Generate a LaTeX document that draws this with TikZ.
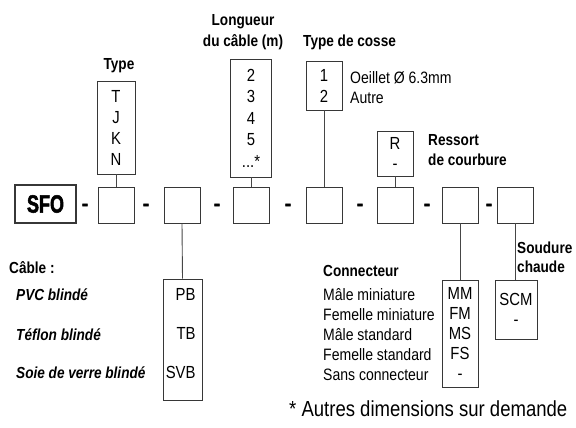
\documentclass[tikz,border=0pt]{standalone}
\usepackage{fontspec}
\setmainfont{Liberation Sans}[FakeStretch=0.85]
\newfontfamily\sfofont{Liberation Sans Bold}[FakeStretch=0.72,FakeBold=2]
\newfontfamily\dashfont{Liberation Sans Bold}[FakeBold=2]
\usepackage{xcolor}
\definecolor{boxline}{RGB}{55,55,55}
\definecolor{linkline}{RGB}{70,70,70}
\usetikzlibrary{positioning}

\begin{document}
\begin{tikzpicture}[x=1pt,y=-1pt,
codebox/.style={draw=boxline,line width=0.9pt,minimum width=36pt,minimum height=36pt,inner sep=0pt},
optbox/.style={draw=boxline,line width=0.9pt,inner sep=0pt,align=center,font=\fontsize{17.5}{21}\selectfont},
sep/.style={font=\fontsize{20}{20}\selectfont\dashfont,inner sep=0pt},
title/.style={font=\fontsize{16}{20}\selectfont\bfseries,inner sep=0pt,align=left},
item/.style={font=\fontsize{16.5}{20}\selectfont,inner sep=0pt,align=left},
link/.style={draw=linkline,line width=0.9pt}]
\useasboundingbox (0,0) rectangle (576,428);
% code row
\node[draw=boxline,line width=1.3pt,minimum width=61pt,minimum height=38pt,inner sep=0pt,font=\fontsize{25}{25}\selectfont\sfofont] (sfo) at (45.5,204) {SFO};
\node[codebox] (b1) at (116,205) {};
\node[codebox] (b2) at (182,205) {};
\node[codebox] (b3) at (251,205) {};
\node[codebox] (b4) at (324,205) {};
\node[codebox] (b5) at (395,205) {};
\node[codebox] (b6) at (460,205) {};
\node[codebox] (b7) at (515,205) {};
\foreach \x/\n in {85/1,146/2,217/3,288/4,360/5,427/6,489/7}
  \node[sep] (dash\n) at (\x,207) {-};
% options above the row
\node[optbox,minimum width=38pt,minimum height=93pt] (typebox) at (116,127.5) {T\\J\\K\\N};
\node[title,align=center] (typetitle) at (119,66) {Type};
\node[optbox,minimum width=41pt,minimum height=118pt,font=\fontsize{17.5}{21.5}\selectfont] (lenbox) at (251,118) {2\\3\\4\\5\\...*};
\node[title,align=center,font=\fontsize{16}{21}\selectfont\bfseries] (lentitle) at (243,32.5) {Longueur\\du câble (m)};
\node[optbox,minimum width=36pt,minimum height=49pt] (cossebox) at (324,85.5) {1\\2};
\node[title,anchor=west] (cossetitle) at (303,42) {Type de cosse};
\node[item,anchor=west] (cossetext) at (350,88) {Oeillet Ø 6.3mm\\Autre};
\node[optbox,minimum width=36pt,minimum height=45pt,font=\fontsize{17.5}{20}\selectfont] (rbox) at (395,153.5) {R\\-};
\node[title,anchor=west] (rtitle) at (428,150) {Ressort\\de courbure};
% options below the row
\node[optbox,minimum width=39pt,minimum height=121pt] (cablebox) at (182.5,339.5) {};
\node[optbox,draw=none,align=right,anchor=east,font=\fontsize{17.5}{39}\selectfont] (cablecodes) at (196,334) {PB\\TB\\SVB};
\node[title,anchor=west] (cabletitle) at (9,268) {Câble :};
\node[title,anchor=west,font=\fontsize{16}{20}\selectfont\bfseries\itshape] (pvc) at (16,295) {PVC blindé};
\node[title,anchor=west,font=\fontsize{16}{20}\selectfont\bfseries\itshape] (teflon) at (16,335) {Téflon blindé};
\node[title,anchor=west,font=\fontsize{16}{20}\selectfont\bfseries\itshape] (soie) at (16,373) {Soie de verre blindé};
\node[optbox,minimum width=36pt,minimum height=107pt,font=\fontsize{17.5}{20}\selectfont] (connbox) at (460,333.5) {MM\\FM\\MS\\FS\\-};
\node[title,anchor=west] (conntitle) at (323,271) {Connecteur};
\node[item,anchor=west] (conntext) at (323,335) {Mâle miniature\\Femelle miniature\\Mâle standard\\Femelle standard\\Sans connecteur};
\node[optbox,minimum width=42pt,minimum height=59pt,font=\fontsize{17.5}{20}\selectfont] (scmbox) at (516,309.5) {SCM\\-};
\node[title,anchor=west,font=\fontsize{16}{19}\selectfont\bfseries] (scmtitle) at (517,257.5) {Soudure\\chaude};
\node[item,anchor=west,font=\fontsize{21.8}{24}\selectfont] (note) at (289,409) {* Autres dimensions sur demande};
% links
\draw[link] (typebox.south) -- (b1.north);
\draw[link] (lenbox.south) -- (b3.north);
\draw[link] (cossebox.south) -- (b4.north);
\draw[link] (rbox.south) -- (b5.north);
\draw[link] (b2.south) -- (cablebox.north);
\draw[link] (b6.south) -- (connbox.north);
\draw[link] (b7.south) -- (b7.south |- scmbox.north);
\end{tikzpicture}
\end{document}
